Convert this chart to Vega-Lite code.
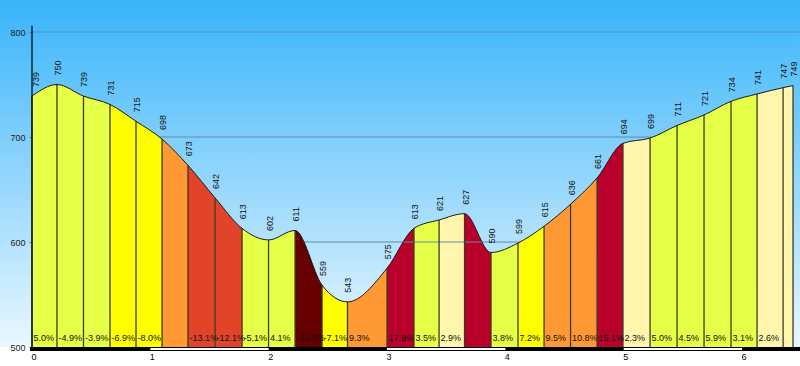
{
  "$schema": "https://vega.github.io/schema/vega-lite/v6.json",
  "width": 800,
  "height": 347,
  "autosize": {"type": "none"},
  "padding": {"left": 0, "top": 0, "right": 0, "bottom": 19},
  "background": "white",
  "config": {
    "view": {"stroke": null, "fill": {"gradient": "linear", "x1": 0, "y1": 0, "x2": 0, "y2": 1, "stops": [{"offset": 0, "color": "#38b4fa"}, {"offset": 1, "color": "#eaf7ff"}]}},
    "axisX": {"domain": false, "grid": false, "tickSize": 3, "tickColor": "#000", "labelPadding": 2, "labelFont": "Liberation Sans", "labelFontSize": 9, "labelColor": "#000", "labelOffset": 1.5, "zindex": 1},
    "axisY": {"offset": -32, "domain": false, "grid": false, "tickSize": 3, "tickColor": "#777", "labelPadding": 4, "labelFont": "Liberation Sans", "labelFontSize": 9, "labelColor": "#222", "zindex": 1}
  },
  "datasets": {
    "pts": [
      {"km": 0, "elev": 739}, {"km": 0.211, "elev": 750}, {"km": 0.435, "elev": 739},
      {"km": 0.659, "elev": 731}, {"km": 0.879, "elev": 715}, {"km": 1.099, "elev": 698},
      {"km": 1.318, "elev": 673}, {"km": 1.547, "elev": 642}, {"km": 1.775, "elev": 613},
      {"km": 1.999, "elev": 602}, {"km": 2.223, "elev": 611}, {"km": 2.451, "elev": 559},
      {"km": 2.666, "elev": 543}, {"km": 3.0, "elev": 575}, {"km": 3.228, "elev": 613},
      {"km": 3.44, "elev": 621}, {"km": 3.655, "elev": 627}, {"km": 3.879, "elev": 590},
      {"km": 4.107, "elev": 599}, {"km": 4.327, "elev": 615}, {"km": 4.551, "elev": 636},
      {"km": 4.775, "elev": 661}, {"km": 4.994, "elev": 694}, {"km": 5.223, "elev": 699},
      {"km": 5.451, "elev": 711}, {"km": 5.679, "elev": 721}, {"km": 5.907, "elev": 734},
      {"km": 6.127, "elev": 741}, {"km": 6.347, "elev": 747}, {"km": 6.431, "elev": 749}
    ],
    "segs": [
      {"km0": 0, "km1": 0.211, "grade": 5.0, "label": "5.0%"},
      {"km0": 0.211, "km1": 0.435, "grade": -4.9, "label": "-4.9%"},
      {"km0": 0.435, "km1": 0.659, "grade": -3.9, "label": "-3.9%"},
      {"km0": 0.659, "km1": 0.879, "grade": -6.9, "label": "-6.9%"},
      {"km0": 0.879, "km1": 1.099, "grade": -8.0, "label": "-8.0%"},
      {"km0": 1.099, "km1": 1.318, "grade": -11.4, "label": null},
      {"km0": 1.318, "km1": 1.547, "grade": -13.1, "label": "-13.1%"},
      {"km0": 1.547, "km1": 1.775, "grade": -12.1, "label": "-12.1%"},
      {"km0": 1.775, "km1": 1.999, "grade": -5.1, "label": "-5.1%"},
      {"km0": 1.999, "km1": 2.223, "grade": 4.1, "label": "4.1%"},
      {"km0": 2.223, "km1": 2.451, "grade": -22.6, "label": "-22.6%"},
      {"km0": 2.451, "km1": 2.666, "grade": -7.1, "label": "-7.1%"},
      {"km0": 2.666, "km1": 3.0, "grade": 9.3, "label": "9.3%"},
      {"km0": 3.0, "km1": 3.228, "grade": 17.9, "label": "17.9%"},
      {"km0": 3.228, "km1": 3.44, "grade": 3.5, "label": "3.5%"},
      {"km0": 3.44, "km1": 3.655, "grade": 2.9, "label": "2.9%"},
      {"km0": 3.655, "km1": 3.879, "grade": -16.5, "label": null},
      {"km0": 3.879, "km1": 4.107, "grade": 3.8, "label": "3.8%"},
      {"km0": 4.107, "km1": 4.327, "grade": 7.2, "label": "7.2%"},
      {"km0": 4.327, "km1": 4.551, "grade": 9.5, "label": "9.5%"},
      {"km0": 4.551, "km1": 4.775, "grade": 10.8, "label": "10.8%"},
      {"km0": 4.775, "km1": 4.994, "grade": 15.1, "label": "15.1%"},
      {"km0": 4.994, "km1": 5.223, "grade": 2.3, "label": "2.3%"},
      {"km0": 5.223, "km1": 5.451, "grade": 5.0, "label": "5.0%"},
      {"km0": 5.451, "km1": 5.679, "grade": 4.5, "label": "4.5%"},
      {"km0": 5.679, "km1": 5.907, "grade": 5.9, "label": "5.9%"},
      {"km0": 5.907, "km1": 6.127, "grade": 3.1, "label": "3.1%"},
      {"km0": 6.127, "km1": 6.347, "grade": 2.6, "label": "2.6%"},
      {"km0": 6.347, "km1": 6.431, "grade": 2.4, "label": null}
    ],
    "grid": [
      {"elev": 800, "km0": 0, "km1": 6.4899},
      {"elev": 700, "km0": 1.082, "km1": 5.235},
      {"elev": 600, "km0": 2.293, "km1": 4.117}
    ],
    "axisline": [{"km": 0, "e0": 500, "e1": 806}],
    "bar": [{"x0": -0.017, "x1": 6.4899}],
    "barw": [{"x0": 1, "x1": 2}, {"x0": 3, "x1": 4}, {"x0": 5, "x1": 6}]
  },
  "layer": [
    {
      "data": {"name": "segs"},
      "mark": {"type": "rect"},
      "encoding": {
        "x": {"field": "km0", "type": "quantitative", "title": null,
              "scale": {"domain": [-0.2704, 6.4899], "nice": false, "zero": false},
              "axis": {"values": [0, 1, 2, 3, 4, 5, 6], "format": "d"}},
        "x2": {"field": "km1"},
        "y": {"value": "height"},
        "y2": {"value": 0},
        "color": {"field": "grade", "type": "quantitative", "legend": null,
                  "scale": {"type": "threshold", "domain": [-20, -15, -12, -9, -6, -3, 3, 6, 9, 12, 15, 20],
                            "range": ["#660000", "#b8002a", "#e2442a", "#ff9933", "#ffff00", "#e6ff47", "#fff5ad", "#e6ff47", "#ffff00", "#ff9933", "#e2442a", "#b8002a", "#660000"]}}
      }
    },
    {
      "data": {"name": "pts"},
      "mark": {"type": "area", "interpolate": "monotone", "fill": {"gradient": "linear", "x1": 0, "y1": 0, "x2": 0, "y2": 1, "stops": [{"offset": 0, "color": "#38b4fa"}, {"offset": 1, "color": "#d3eefe"}]}},
      "encoding": {
        "x": {"field": "km", "type": "quantitative", "title": null, "scale": {"domain": [-0.2704, 6.4899], "nice": false, "zero": false}},
        "y": {"field": "elev", "type": "quantitative", "title": null, "stack": null,
              "scale": {"domain": [500, 830.5], "nice": false, "zero": false},
              "axis": {"values": [500, 600, 700, 800]}},
        "y2": {"value": 0}
      }
    },
    {
      "data": {"name": "grid"},
      "mark": {"type": "rule", "color": "#5e8db0", "strokeWidth": 1},
      "encoding": {
        "x": {"field": "km0", "type": "quantitative", "title": null, "scale": {"domain": [-0.2704, 6.4899], "nice": false, "zero": false}},
        "x2": {"field": "km1"},
        "y": {"field": "elev", "type": "quantitative", "title": null, "scale": {"domain": [500, 830.5], "nice": false, "zero": false}}
      }
    },
    {
      "data": {"name": "pts"},
      "mark": {"type": "rule", "color": "#3d3a24", "strokeWidth": 1.3},
      "encoding": {
        "x": {"field": "km", "type": "quantitative", "title": null, "scale": {"domain": [-0.2704, 6.4899], "nice": false, "zero": false}},
        "y": {"field": "elev", "type": "quantitative", "title": null, "scale": {"domain": [500, 830.5], "nice": false, "zero": false}},
        "y2": {"value": "height"}
      }
    },
    {
      "data": {"name": "pts"},
      "mark": {"type": "line", "interpolate": "monotone", "color": "#1a1a1a", "strokeWidth": 1},
      "encoding": {
        "x": {"field": "km", "type": "quantitative", "title": null, "scale": {"domain": [-0.2704, 6.4899], "nice": false, "zero": false}},
        "y": {"field": "elev", "type": "quantitative", "title": null, "scale": {"domain": [500, 830.5], "nice": false, "zero": false}}
      }
    },
    {
      "data": {"name": "pts"},
      "transform": [{"filter": "datum.km > 0"}],
      "mark": {"type": "text", "angle": 270, "align": "left", "baseline": "middle", "dx": 9, "dy": 1, "font": "Liberation Sans", "fontSize": 9, "color": "#111"},
      "encoding": {
        "x": {"field": "km", "type": "quantitative", "title": null, "scale": {"domain": [-0.2704, 6.4899], "nice": false, "zero": false}},
        "y": {"field": "elev", "type": "quantitative", "title": null, "scale": {"domain": [500, 830.5], "nice": false, "zero": false}},
        "text": {"field": "elev", "type": "quantitative"}
      }
    },
    {
      "data": {"name": "pts"},
      "transform": [{"filter": "datum.km == 0"}],
      "mark": {"type": "text", "angle": 270, "align": "left", "baseline": "middle", "dx": 9, "dy": 4, "font": "Liberation Sans", "fontSize": 9, "color": "#111"},
      "encoding": {
        "x": {"field": "km", "type": "quantitative", "title": null, "scale": {"domain": [-0.2704, 6.4899], "nice": false, "zero": false}},
        "y": {"field": "elev", "type": "quantitative", "title": null, "scale": {"domain": [500, 830.5], "nice": false, "zero": false}},
        "text": {"field": "elev", "type": "quantitative"}
      }
    },
    {
      "data": {"name": "segs"},
      "transform": [{"filter": "datum.label != null"}],
      "mark": {"type": "text", "align": "left", "baseline": "middle", "dx": 1.5, "dy": -9.5, "font": "Liberation Sans", "fontSize": 9, "color": "#111"},
      "encoding": {
        "x": {"field": "km0", "type": "quantitative", "title": null, "scale": {"domain": [-0.2704, 6.4899], "nice": false, "zero": false}},
        "y": {"value": "height"},
        "text": {"field": "label", "type": "nominal"}
      }
    },
    {
      "data": {"name": "bar"},
      "mark": {"type": "rule", "color": "#000", "strokeWidth": 4, "yOffset": 2},
      "encoding": {
        "x": {"field": "x0", "type": "quantitative", "title": null, "scale": {"domain": [-0.2704, 6.4899], "nice": false, "zero": false}},
        "x2": {"field": "x1"},
        "y": {"value": "height"}
      }
    },
    {
      "data": {"name": "barw"},
      "mark": {"type": "rule", "color": "#fff", "strokeWidth": 2, "yOffset": 2},
      "encoding": {
        "x": {"field": "x0", "type": "quantitative", "title": null, "scale": {"domain": [-0.2704, 6.4899], "nice": false, "zero": false}},
        "x2": {"field": "x1"},
        "y": {"value": "height"}
      }
    },
    {
      "data": {"name": "axisline"},
      "mark": {"type": "rule", "color": "#000", "strokeWidth": 1.2},
      "encoding": {
        "x": {"field": "km", "type": "quantitative", "title": null, "scale": {"domain": [-0.2704, 6.4899], "nice": false, "zero": false}},
        "y": {"field": "e0", "type": "quantitative", "title": null, "scale": {"domain": [500, 830.5], "nice": false, "zero": false}},
        "y2": {"field": "e1"}
      }
    }
  ]
}
